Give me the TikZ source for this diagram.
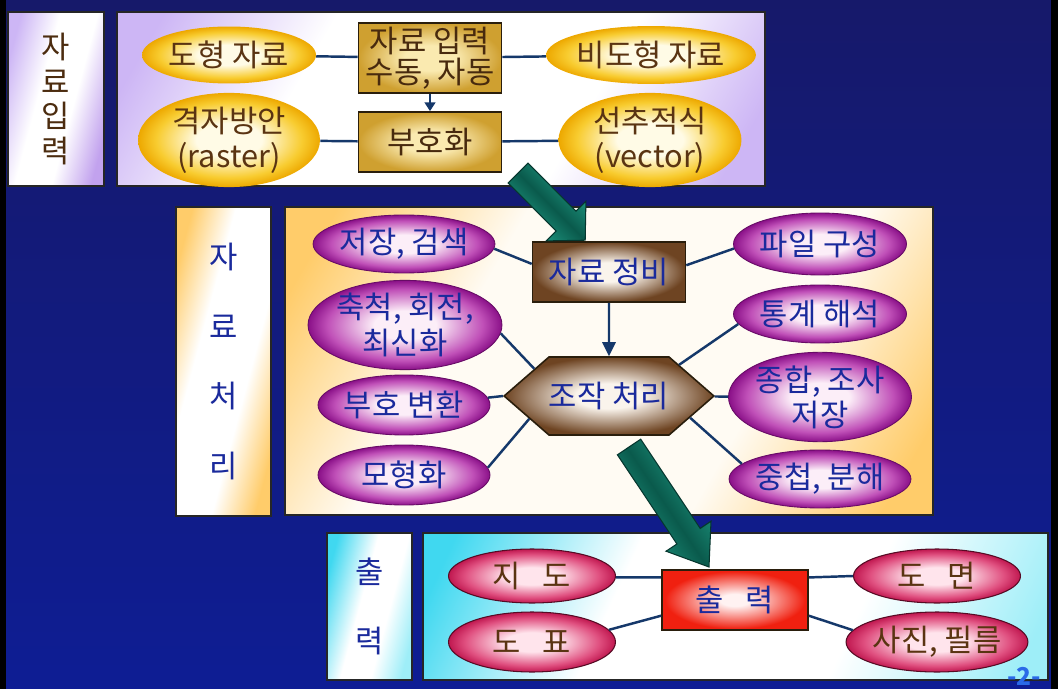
\documentclass[tikz,border=0pt]{standalone}
\usepackage{fontspec}
\setmainfont{Noto Sans CJK KR}
\usetikzlibrary{shapes.geometric,shapes.symbols,arrows.meta}
\definecolor{bgTop}{HTML}{16196A}
\definecolor{bgBot}{HTML}{0E1D94}
\definecolor{lineC}{HTML}{15386A}
\definecolor{txtBrown}{HTML}{5A3412}
\definecolor{txtBlue}{HTML}{1A2A9C}
\definecolor{boxLine}{HTML}{2A1E0C}
\definecolor{yIn}{HTML}{FFFBE6}
\definecolor{yMid}{HTML}{F8CC30}
\definecolor{yOut}{HTML}{EDA800}
\definecolor{pIn}{HTML}{FCEEF8}
\definecolor{pMid}{HTML}{C050B8}
\definecolor{pOut}{HTML}{8A1088}
\definecolor{kIn}{HTML}{FFE4EC}
\definecolor{kMid}{HTML}{E05080}
\definecolor{kOut}{HTML}{C01850}
\definecolor{gIn}{HTML}{FAEAB0}
\definecolor{gOut}{HTML}{CFA030}
\definecolor{bIn}{HTML}{FAF4EC}
\definecolor{bOut}{HTML}{6E4422}
\definecolor{rIn}{HTML}{FFF2F2}
\definecolor{rOut}{HTML}{F02010}
\definecolor{lavA}{HTML}{CDB6F5}
\definecolor{lavB}{HTML}{C2A2EE}
\definecolor{orgA}{HTML}{FFCC6A}
\definecolor{cyaA}{HTML}{40D8F0}
\definecolor{cyaB}{HTML}{9EEEF8}
\definecolor{tealL}{HTML}{22A48C}
\definecolor{tealD}{HTML}{0A5A4C}
\definecolor{pgBlue}{HTML}{2A6AE8}
\pgfdeclareradialshading{yellowsh}{\pgfpoint{0bp}{0bp}}{color(0bp)=(yIn); color(9bp)=(yIn); color(20bp)=(yMid); color(25bp)=(yOut); color(50bp)=(yOut)}
\pgfdeclareradialshading{purplesh}{\pgfpoint{0bp}{0bp}}{color(0bp)=(pIn); color(8bp)=(pIn); color(20bp)=(pMid); color(25bp)=(pOut); color(50bp)=(pOut)}
\pgfdeclareradialshading{pinksh}{\pgfpoint{0bp}{0bp}}{color(0bp)=(kIn); color(8bp)=(kIn); color(20bp)=(kMid); color(25bp)=(kOut); color(50bp)=(kOut)}
\pgfdeclareradialshading{goldsh}{\pgfpoint{0bp}{0bp}}{color(0bp)=(gIn); color(9bp)=(gIn); color(25bp)=(gOut); color(50bp)=(gOut)}
\pgfdeclareradialshading{brownsh}{\pgfpoint{0bp}{0bp}}{color(0bp)=(bIn); color(8bp)=(bIn); color(25bp)=(bOut); color(50bp)=(bOut)}
\pgfdeclareradialshading{redsh}{\pgfpoint{0bp}{0bp}}{color(0bp)=(rIn); color(5bp)=(rIn); color(24bp)=(rOut); color(50bp)=(rOut)}
\pgfdeclarehorizontalshading{lavdiag}{100bp}{color(0bp)=(lavA); color(20bp)=(lavA); color(36bp)=(white); color(64bp)=(white); color(80bp)=(lavA); color(100bp)=(lavA)}
\pgfdeclarehorizontalshading{orgdiag}{100bp}{color(0bp)=(orgA); color(20bp)=(orgA); color(36bp)=(orgA!8!white); color(64bp)=(orgA!8!white); color(80bp)=(orgA); color(100bp)=(orgA)}
\pgfdeclarehorizontalshading{cyadiag}{100bp}{color(0bp)=(cyaA); color(20bp)=(cyaA); color(38bp)=(white); color(62bp)=(white); color(80bp)=(cyaB); color(100bp)=(cyaB)}
\pgfdeclarehorizontalshading{lavlab}{100bp}{color(0bp)=(lavA); color(25bp)=(lavA); color(42bp)=(white); color(58bp)=(white); color(75bp)=(lavB); color(100bp)=(lavB)}
\pgfdeclarehorizontalshading{orglab}{100bp}{color(0bp)=(orgA); color(25bp)=(orgA); color(40bp)=(white); color(60bp)=(white); color(75bp)=(orgA); color(100bp)=(orgA)}
\pgfdeclarehorizontalshading{cyalab}{100bp}{color(0bp)=(cyaA); color(25bp)=(cyaA); color(45bp)=(white); color(60bp)=(white); color(75bp)=(cyaB); color(100bp)=(cyaB)}
\tikzset{
  conn/.style={draw=lineC, line width=1.4pt},
  tx/.style={font=\fontsize{17.5}{20}\selectfont, align=center, inner sep=0pt},
  yel/.style={tx, ellipse, shading=yellowsh, text=txtBrown},
  pur/.style={tx, ellipse, shading=purplesh, draw=pOut!75!black, line width=0.5pt, text=txtBlue},
  pnk/.style={tx, ellipse, shading=pinksh, draw=kOut!45!black, line width=0.6pt, text=txtBrown},
  goldbox/.style={tx, rectangle, shading=goldsh, draw=boxLine, line width=0.9pt, text=txtBrown!80!black},
  brownbox/.style={tx, rectangle, shading=brownsh, draw=boxLine, line width=0.9pt, text=txtBlue},
  redbox/.style={tx, rectangle, shading=redsh, draw=boxLine, line width=0.9pt, text=txtBlue},
  secbox/.style={rectangle, draw=black!85, line width=0.8pt, inner sep=0pt, align=center},
  bigarrow/.style={top color=tealL, bottom color=tealL, middle color=tealD, draw=tealD!60!black, line width=0.6pt},
}
\begin{document}
\begin{tikzpicture}[x=0.02cm,y=-0.02cm]
\useasboundingbox (0,0) rectangle (1058,689);
\fill[top color=bgTop, bottom color=bgBot] (0,0) rectangle (1058,689);
\fill[black] (0,0) rectangle (6,689);
\fill[black] (1051,0) rectangle (1058,689);

% ---------- section boxes ----------
\node[secbox, shading=lavlab, shading angle=-15, text=txtBrown!85!black,
  font=\fontsize{17.5}{19.8}\selectfont, minimum width=1.92cm, minimum height=3.48cm] (lab1) at (56,99) {자\\료\\입\\력};
\node[secbox, shading=lavdiag, shading angle=-30, minimum width=12.96cm, minimum height=3.48cm] (main1) at (441,99) {};

\node[secbox, shading=orglab, shading angle=-15, text=txtBlue,
  font=\fontsize{17.5}{39.7}\selectfont, minimum width=1.90cm, minimum height=6.18cm] (lab2) at (223.5,361.5) {자\\료\\처\\리};
\node[secbox, shading=orgdiag, shading angle=-30, minimum width=12.96cm, minimum height=6.16cm] (main2) at (609,361) {};

\node[secbox, shading=cyalab, shading angle=-15, text=txtBlue,
  font=\fontsize{17.5}{39.7}\selectfont, minimum width=1.70cm, minimum height=2.94cm] (lab3) at (369.5,606.5) {출\\력};
\node[secbox, shading=cyadiag, shading angle=-25, minimum width=12.5cm, minimum height=2.94cm] (main3) at (735.5,606.5) {};

% ---------- top: data input ----------
\node[yel, minimum width=3.48cm, minimum height=1.14cm] (edh) at (229,55) {도형 자료};
\node[yel, minimum width=3.64cm, minimum height=1.72cm] (era) at (229,140) {격자방안\\(raster)};
\node[goldbox, font=\fontsize{17.5}{17.5}\selectfont, minimum width=2.86cm, minimum height=1.40cm] (bin) at (430,58) {자료 입력\\수동, 자동};
\node[goldbox, minimum width=2.86cm, minimum height=1.20cm] (bbh) at (430,142) {부호화};
\node[yel, minimum width=3.50cm, minimum height=1.16cm] (ebd) at (651,55) {비도형 자료};
\node[yel, minimum width=3.66cm, minimum height=1.72cm] (eve) at (650,140) {선추적식\\(vector)};

\draw[conn] (edh) -- (bin);
\draw[conn] (bin) -- (ebd);
\draw[conn] (era) -- (bbh);
\draw[conn] (bbh) -- (eve);
\draw[conn, -{Triangle[width=6pt,length=5pt]}] (bin) -- (bbh);

% ---------- middle: data processing ----------
\node[pur, minimum width=3.44cm, minimum height=1.16cm] (p1) at (404,244) {저장, 검색};
\node[pur, minimum width=3.64cm, minimum height=1.72cm] (p2) at (405,325) {축척, 회전,\\최신화};
\node[pur, minimum width=3.44cm, minimum height=1.20cm] (p3) at (404,405) {부호 변환};
\node[pur, minimum width=3.44cm, minimum height=1.20cm] (p4) at (404,475) {모형화};
\node[pur, minimum width=3.46cm, minimum height=1.24cm] (q1) at (820,244) {파일 구성};
\node[pur, minimum width=3.46cm, minimum height=1.16cm] (q2) at (820,314) {통계 해석};
\node[pur, minimum width=3.66cm, minimum height=1.74cm] (q3) at (820,397) {종합, 조사\\저장};
\node[pur, minimum width=3.46cm, minimum height=1.16cm] (q4) at (820,479) {중첩, 분해};
\node[brownbox, minimum width=3.06cm, minimum height=1.20cm] (jb) at (609,272) {자료 정비};
\node[tx, signal, signal to=east and west, signal pointer angle=82, shading=brownsh, draw=boxLine,
  line width=0.9pt, text=txtBlue, minimum width=4.16cm, minimum height=1.56cm] (hx) at (609,396) {조작 처리};

\draw[conn, -{Triangle[width=7.5pt,length=8pt]}] (jb) -- (hx);
\draw[conn] (p1.-3) -- (jb.174);
\draw[conn] (p2.-5) -- (hx.160);
\draw[conn] (p3.5) -- (hx.west);
\draw[conn] (p4.5) -- (hx.-164);
\draw[conn] (jb.5) -- (q1.-177);
\draw[conn] (hx.24) -- (q2.187);
\draw[conn] (hx) -- (q3);
\draw[conn] (hx.-15) -- (q4.169);

% ---------- bottom: output ----------
\node[pnk, minimum width=3.34cm, minimum height=1.08cm] (k1) at (532,576) {지\hspace{0.7em}도};
\node[pnk, minimum width=3.34cm, minimum height=1.20cm] (k2) at (532,642) {도\hspace{0.7em}표};
\node[pnk, minimum width=3.34cm, minimum height=1.08cm] (k3) at (937,576) {도\hspace{0.7em}면};
\node[pnk, minimum width=3.34cm, minimum height=1.20cm] (k4) at (937,642) {사진, 필름};
\node[redbox, minimum width=2.92cm, minimum height=1.20cm] (out) at (735,600) {출\hspace{0.7em}력};

\draw[conn] (k1.-1) -- (out.163);
\draw[conn] (k2.9) -- (out.-168);
\draw[conn] (out.17) -- (k3.west);
\draw[conn] (out.-12) -- (k4.172);

% ---------- big transition arrows ----------
\path[bigarrow, shading angle=-45] (527.9,163.1) -- (576.0,211.2) -- (585.9,201.3) -- (585.2,240.2)
  -- (546.3,240.9) -- (556.2,231.0) -- (508.1,182.9) -- cycle;
\path[bigarrow, shading angle=-56] (640.7,439.2) -- (700.2,528.4) -- (711.0,521.2) -- (709,567)
  -- (666.0,551.2) -- (676.9,544.0) -- (617.4,454.8) -- cycle;

% ---------- page number ----------
\node[font=\bfseries\fontsize{14}{14}\selectfont, text=pgBlue, inner sep=0pt] (pg) at (1024,676) {-2-};
\end{tikzpicture}
\end{document}
